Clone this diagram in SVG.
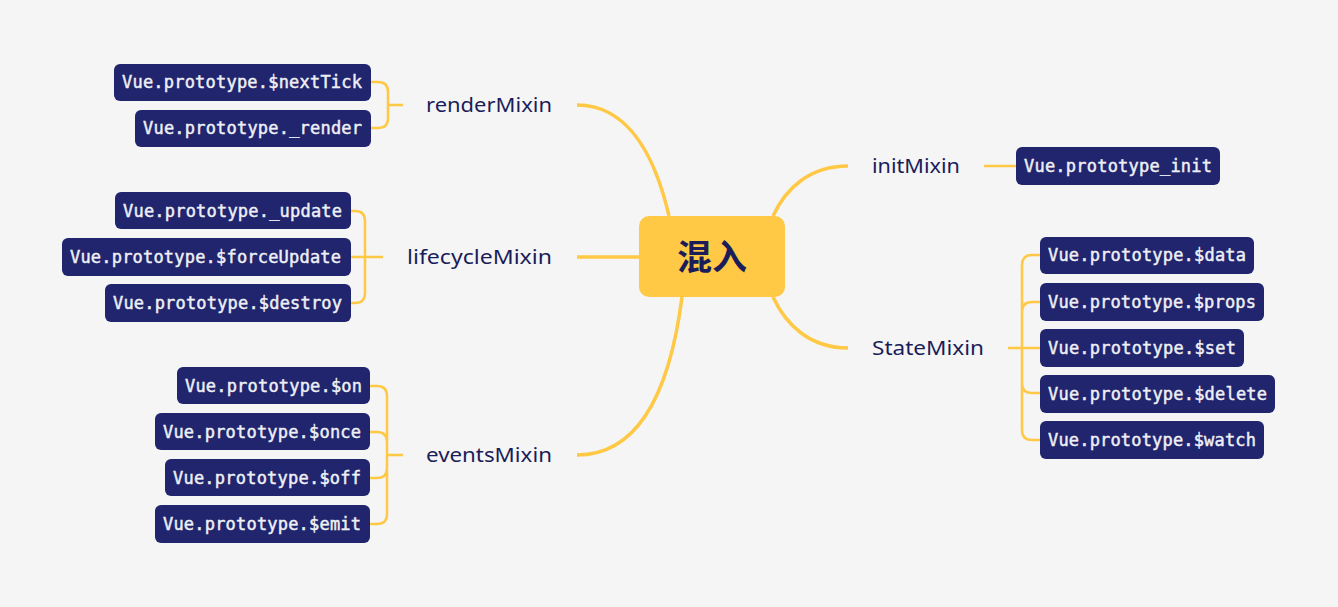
<svg xmlns="http://www.w3.org/2000/svg" width="1338" height="607" viewBox="0 0 1338 607">
<style>
.leaf rect{fill:#21256e;}
.leaf text{font-family:"DejaVu Sans Mono","Liberation Mono",monospace;font-size:17px;font-weight:normal;fill:#eef0f5;stroke:#eef0f5;stroke-width:0.45;}
.lbl{font-family:"Noto Sans","Liberation Sans",sans-serif;font-size:20px;fill:#1a1d5a;}
.main{fill:none;stroke:#ffc845;stroke-width:3.5;stroke-linecap:butt;}
.br{fill:none;stroke:#ffc845;stroke-width:2.5;}
</style>
<rect x="0" y="0" width="1338" height="607" fill="#f5f5f5"/>
<g id="connectors">
<path class="main" d="M577,105 C630,105 656,160 669,216"/>
<path class="main" d="M577,257 H639"/>
<path class="main" d="M577,455 C640,455 670,390 682,297"/>
<path class="main" d="M848,166 C810,166 786,188 773,216"/>
<path class="main" d="M848,348 C810,348 786,325 773,297"/>
<path class="br" d="M371,82 H378 Q388,82 388,92 V118 Q388,128 378,128 H371 M388,105 H403"/>
<path class="br" d="M351,211 H355 Q365,211 365,221 V293 Q365,303 355,303 H351 M351,257 H383"/>
<path class="br" d="M370,386 H377 Q387,386 387,396 V514 Q387,524 377,524 H370 M370,432 H377 Q387,432 387,442 M370,478 H377 Q387,478 387,468 M387,455 H403"/>
<path class="br" d="M984,166 H1016"/>
<path class="br" d="M1040,255 H1032 Q1022,255 1022,265 V430 Q1022,440 1032,440 H1040 M1040,302 H1032 Q1022,302 1022,312 M1040,393 H1032 Q1022,393 1022,383 M1008,348 H1040"/>
</g>
<g id="root">
<rect x="639" y="216" width="146" height="81" rx="10" fill="#ffc845"/>
<text x="712" y="270" text-anchor="middle" font-family="'Noto Sans CJK SC',sans-serif" font-size="35" font-weight="bold" fill="#1a1d5a">混入</text>
</g>
<g id="renderMixin"><text class="lbl" x="426" y="112" textLength="126" lengthAdjust="spacingAndGlyphs">renderMixin</text></g>
<g id="lifecycleMixin"><text class="lbl" x="407" y="264" textLength="145" lengthAdjust="spacingAndGlyphs">lifecycleMixin</text></g>
<g id="eventsMixin"><text class="lbl" x="426" y="462" textLength="126" lengthAdjust="spacingAndGlyphs">eventsMixin</text></g>
<g id="initMixin"><text class="lbl" x="872" y="173" textLength="88" lengthAdjust="spacingAndGlyphs">initMixin</text></g>
<g id="StateMixin"><text class="lbl" x="872" y="355" textLength="112" lengthAdjust="spacingAndGlyphs">StateMixin</text></g>
<g id="leaf-nextTick" class="leaf"><rect x="114" y="64" width="257" height="37" rx="6"/><text x="122" y="88" textLength="240">Vue.prototype.$nextTick</text></g>
<g id="leaf-render" class="leaf"><rect x="135" y="110" width="236" height="37" rx="6"/><text x="143" y="134" textLength="219">Vue.prototype._render</text></g>
<g id="leaf-update" class="leaf"><rect x="115" y="192" width="236" height="37" rx="6"/><text x="123" y="217" textLength="219">Vue.prototype._update</text></g>
<g id="leaf-forceUpdate" class="leaf"><rect x="62" y="238" width="289" height="38" rx="6"/><text x="70" y="263" textLength="271">Vue.prototype.$forceUpdate</text></g>
<g id="leaf-destroy" class="leaf"><rect x="105" y="284" width="246" height="38" rx="6"/><text x="113" y="309" textLength="229">Vue.prototype.$destroy</text></g>
<g id="leaf-on" class="leaf"><rect x="177" y="367" width="193" height="37" rx="6"/><text x="185" y="392" textLength="177">Vue.prototype.$on</text></g>
<g id="leaf-once" class="leaf"><rect x="155" y="413" width="215" height="37" rx="6"/><text x="163" y="438" textLength="198">Vue.prototype.$once</text></g>
<g id="leaf-off" class="leaf"><rect x="165" y="459" width="205" height="37" rx="6"/><text x="173" y="484" textLength="188">Vue.prototype.$off</text></g>
<g id="leaf-emit" class="leaf"><rect x="155" y="505" width="215" height="38" rx="6"/><text x="163" y="530" textLength="198">Vue.prototype.$emit</text></g>
<g id="leaf-init" class="leaf"><rect x="1016" y="147" width="204" height="38" rx="6"/><text x="1024" y="172" textLength="188">Vue.prototype_init</text></g>
<g id="leaf-data" class="leaf"><rect x="1040" y="237" width="214" height="37" rx="6"/><text x="1048" y="261" textLength="198">Vue.prototype.$data</text></g>
<g id="leaf-props" class="leaf"><rect x="1040" y="283" width="224" height="38" rx="6"/><text x="1048" y="308" textLength="208">Vue.prototype.$props</text></g>
<g id="leaf-set" class="leaf"><rect x="1040" y="329" width="204" height="38" rx="6"/><text x="1048" y="354" textLength="188">Vue.prototype.$set</text></g>
<g id="leaf-delete" class="leaf"><rect x="1040" y="375" width="235" height="38" rx="6"/><text x="1048" y="400" textLength="219">Vue.prototype.$delete</text></g>
<g id="leaf-watch" class="leaf"><rect x="1040" y="421" width="224" height="38" rx="6"/><text x="1048" y="446" textLength="208">Vue.prototype.$watch</text></g>
</svg>
